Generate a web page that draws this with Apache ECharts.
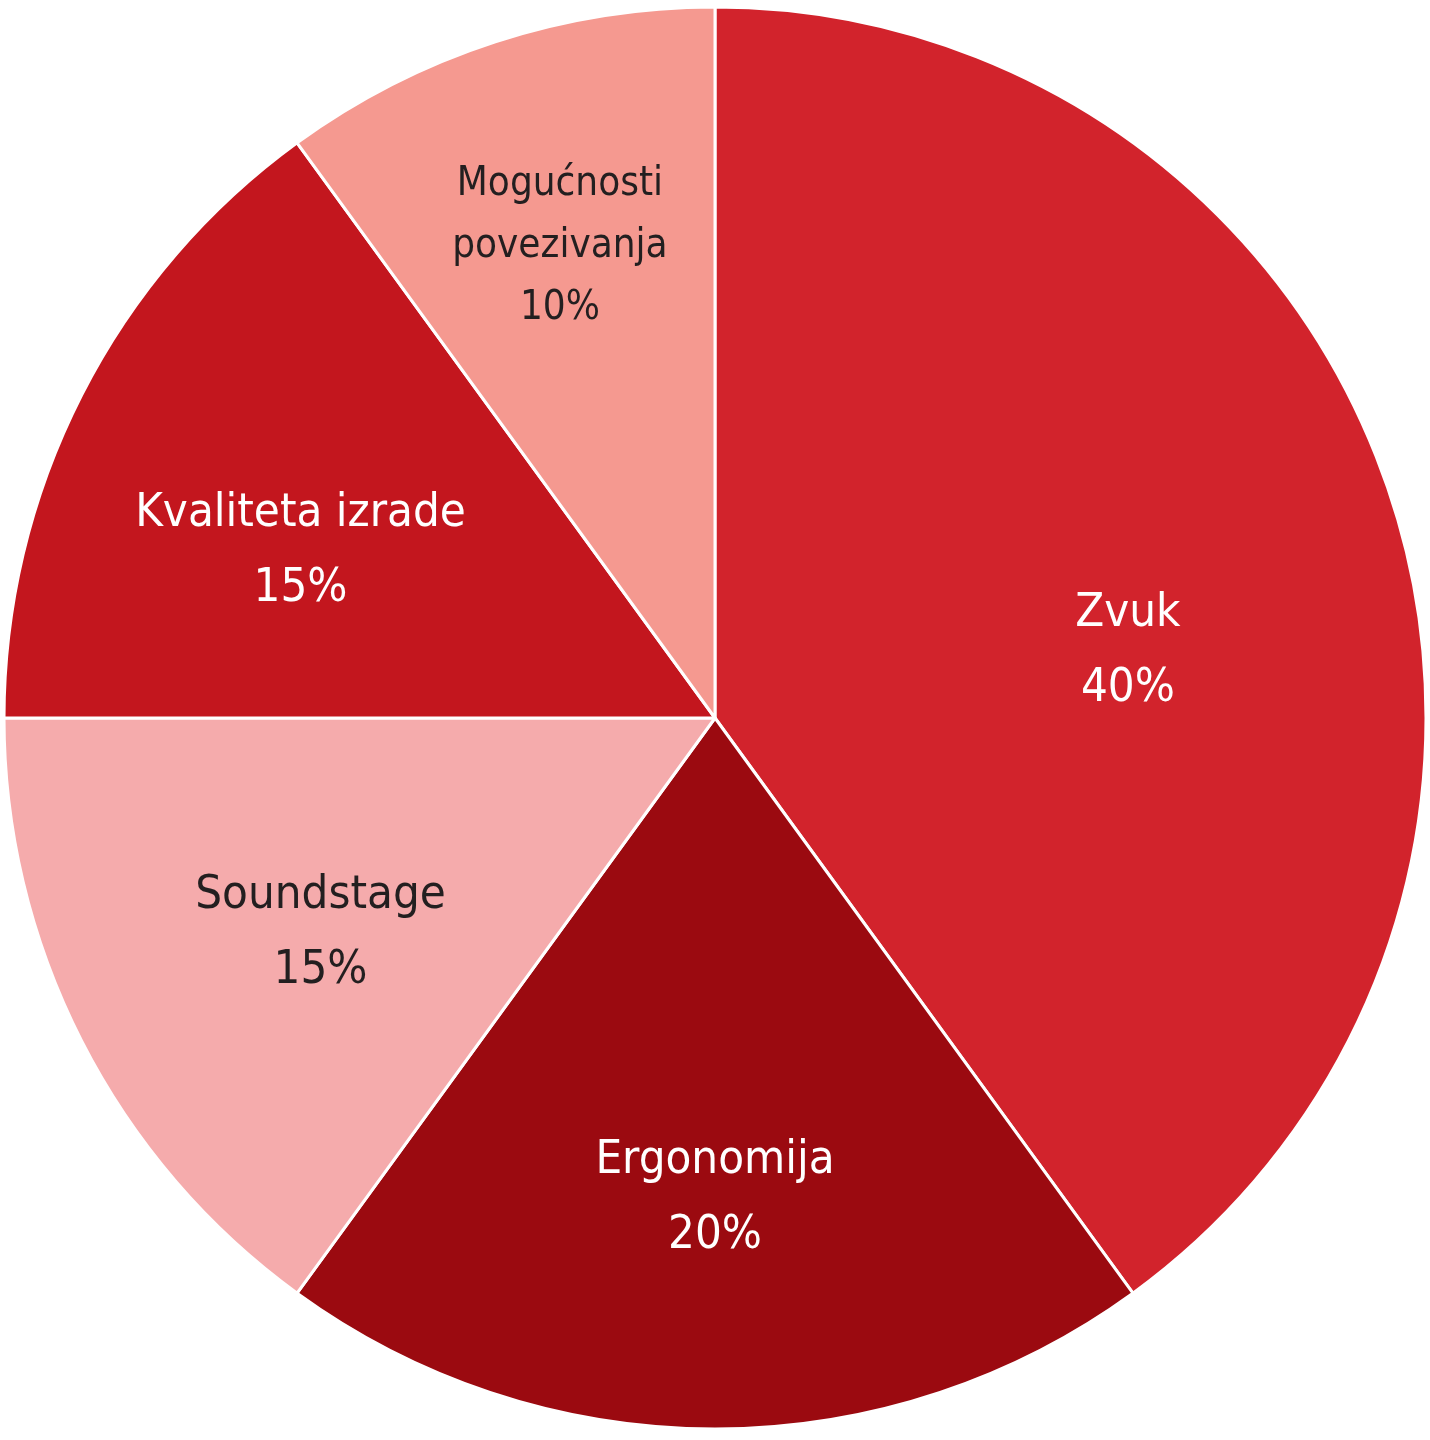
<!DOCTYPE html>
<html>
<head>
<meta charset="utf-8">
<script src="https://cdn.jsdelivr.net/npm/echarts@6/dist/echarts.min.js"></script>
<style>
  html, body { margin: 0; padding: 0; background: #fff; }
  #chart { width: 1430px; height: 1440px; }
</style>
</head>
<body>
<div id="chart"></div>
<script>
// podaci
const categories = ['Zvuk', 'Ergonomija', 'Soundstage', 'Kvaliteta izrade', 'Mogućnosti povezivanja'];
const values = [40, 20, 15, 15, 10];
const colors = ['#D2232C', '#9B0A10', '#F5ABAC', '#C3161E', '#F59990'];
const labelColors = ['#ffffff', '#ffffff', '#231F20', '#ffffff', '#231F20'];

// pomak oznaka od sredine (radijalno) + dodatni pomak
const labelScale = [1.0, 1.34, 1.26, 1.26, 1.4];
const labelShift = [[72, 44], [0, 0], [8, 10], [-12, 38], [0, 6]];

const cx = 715, cy = 718;

const chart = echarts.init(document.getElementById('chart'));

chart.setOption({
  animation: false,
  series: [
    {
      type: 'pie',
      center: [cx, cy],
      radius: [0, 711],
      startAngle: 90,
      clockwise: true,
      itemStyle: {
        borderColor: '#ffffff',
        borderWidth: 3
      },
      label: {
        show: true,
        position: 'inside',
        fontFamily: "'DejaVu Sans Condensed', sans-serif",
        fontSize: 47,
        lineHeight: 75,
        align: 'center',
        formatter: function (p) {
          const name = p.dataIndex === 4 ? p.name.replace(' ', '\n') : p.name;
          return name + '\n' + p.value + '%';
        }
      },
      labelLine: { show: false },
      emphasis: { disabled: true },
      labelLayout: function (params) {
        const i = params.dataIndex;
        const r = params.labelRect;
        const lx = r.x + r.width / 2;
        const ly = r.y + r.height / 2;
        const k = labelScale[i];
        return {
          dx: (lx - cx) * (k - 1) + labelShift[i][0],
          dy: (ly - cy) * (k - 1) + labelShift[i][1]
        };
      },
      data: categories.map(function (name, i) {
        const item = {
          name: name,
          value: values[i],
          itemStyle: { color: colors[i] },
          label: { color: labelColors[i] }
        };
        if (i === 4) {
          item.label.fontSize = 40;
          item.label.lineHeight = 62;
        }
        return item;
      })
    }
  ]
});
</script>
</body>
</html>
